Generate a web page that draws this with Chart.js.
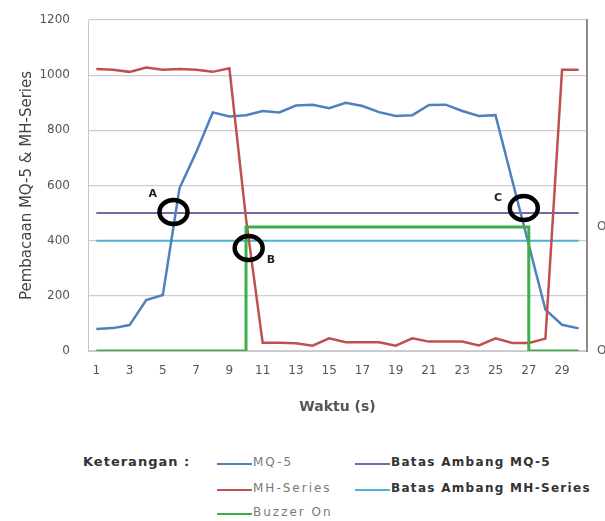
<!DOCTYPE html>
<html>
<head>
<meta charset="utf-8">
<script src="https://cdn.jsdelivr.net/npm/chart.js@4.4.1/dist/chart.umd.min.js"></script>
<style>
  body { margin: 0; background: #fff; width: 605px; height: 521px; overflow: hidden; position: relative; font-family: "DejaVu Sans", sans-serif; }
  #wrap { position: absolute; left: 0; top: 0; width: 605px; height: 425px; }
  #legend { position: absolute; left: 0; top: 450px; width: 605px; height: 71px; }
  .key { position: absolute; left: 83px; top: 4px; font-weight: bold; font-size: 13px; letter-spacing: 1px; color: #333; }
  .item { position: absolute; height: 20px; white-space: nowrap; }
  .item .sw { position: absolute; left: 0; top: 9px; width: 35px; height: 0; border-top: 2px solid; }
  .item .tx { position: absolute; left: 36px; top: 1px; font-size: 12px; }
  .plain { color: #7a7a7a; letter-spacing: 2px; }
  .bold { color: #333; font-weight: bold; letter-spacing: 1.3px; }
</style>
</head>
<body>
<div id="wrap"><canvas id="chart"></canvas></div>
<div id="legend"><div class="key">Keterangan :</div></div>
<script>
// Data
const categories = ['1','2','3','4','5','6','7','8','9','10','11','12','13','14','15',
  '16','17','18','19','20','21','22','23','24','25','26','27','28','29','30'];
const mq5 = [80, 83, 94, 185, 203, 590, 720, 865, 850, 855, 870, 865, 890, 893, 880,
  900, 888, 866, 852, 855, 892, 893, 870, 852, 855, 620, 385, 150, 95, 82];
const mhSeries = [1022, 1020, 1012, 1028, 1020, 1022, 1020, 1012, 1025, 480, 30, 30, 28, 19, 46,
  32, 32, 32, 19, 46, 34, 34, 34, 20, 46, 29, 29, 45, 1020, 1020];
const buzzerOn = [0, 0, 0, 0, 0, 0, 0, 0, 0, 1, 1, 1, 1, 1, 1,
  1, 1, 1, 1, 1, 1, 1, 1, 1, 1, 1, 0, 0, 0, 0];
const batasMQ5 = [500, 500, 500, 500, 500, 500, 500, 500, 500, 500, 500, 500, 500, 500, 500,
  500, 500, 500, 500, 500, 500, 500, 500, 500, 500, 500, 500, 500, 500, 500];
const batasMH = [400, 400, 400, 400, 400, 400, 400, 400, 400, 400, 400, 400, 400, 400, 400,
  400, 400, 400, 400, 400, 400, 400, 400, 400, 400, 400, 400, 400, 400, 400];
const yTicks = [0, 200, 400, 600, 800, 1000, 1200];
const buzzerTicks = ['Off', 'On'];
// circled points A, B, C: [label, category index, value, label index, label value]
const marks = [
  ['A', 4.64, 504, 3.4, 570],
  ['B', 9.16, 373, 10.5, 330],
  ['C', 25.7, 518, 24.15, 555]
];

const colors = {
  mq5: '#4f81bd', mh: '#c0504d', buzzer: '#3cae4a', batasMQ5: '#8064a2', batasMH: '#4bb4d2'
};

// black rings + letters
const ringPlugin = {
  id: 'rings',
  afterDatasetsDraw(chart) {
    const { ctx, scales: { x, y } } = chart;
    ctx.save();
    marks.forEach(([name, xi, yv, lx, ly]) => {
      const px = x.getPixelForValue(xi), py = y.getPixelForValue(yv);
      ctx.beginPath();
      ctx.ellipse(px, py, 14, 12, 0, 0, Math.PI * 2);
      ctx.lineWidth = 4.5;
      ctx.strokeStyle = '#000';
      ctx.stroke();
      ctx.fillStyle = '#222';
      ctx.font = 'bold 11px "DejaVu Sans"';
      ctx.textAlign = 'center';
      ctx.textBaseline = 'middle';
      ctx.fillText(name, x.getPixelForValue(lx), y.getPixelForValue(ly));
    });
    ctx.restore();
  }
};

const line = (label, data, color, width, order, extra) => Object.assign({
  label, data, borderColor: color, backgroundColor: color, borderWidth: width,
  pointRadius: 0, tension: 0, fill: false, order
}, extra || {});

new Chart(document.getElementById('chart'), {
  type: 'line',
  data: {
    labels: categories,
    datasets: [
      line('Batas Ambang MH-Series', batasMH, colors.batasMH, 2, 4),
      line('Batas Ambang MQ-5', batasMQ5, colors.batasMQ5, 2, 3),
      line('MQ-5', mq5, colors.mq5, 2.5, 2),
      line('MH-Series', mhSeries, colors.mh, 2.5, 1),
      line('Buzzer On', buzzerOn, colors.buzzer, 3, 0, { yAxisID: 'y2', stepped: 'before' })
    ]
  },
  options: {
    responsive: true,
    maintainAspectRatio: false,
    animation: false,
    layout: { padding: { top: 20, left: 0, right: 0, bottom: 0 } },
    plugins: { legend: { display: false }, tooltip: { enabled: false } },
    scales: {
      x: {
        offset: true,
        grid: { display: false, drawTicks: false },
        border: { display: true, color: '#c8c8c8', width: 1 },
        ticks: {
          autoSkip: false, maxRotation: 0, padding: 13, color: '#555',
          font: { family: 'DejaVu Sans', size: 12 },
          callback(v, i) { return i % 2 === 0 ? this.getLabelForValue(v) : ''; }
        },
        title: {
          display: true, text: 'Waktu (s)', color: '#555',
          font: { family: 'DejaVu Sans', size: 14, weight: 'bold' },
          padding: { top: 0, bottom: 9 }
        },
        afterFit(s) { s.height = 74; }
      },
      y: {
        min: 0, max: 1200,
        afterBuildTicks(s) { s.ticks = yTicks.map(v => ({ value: v })); },
        grid: { color: '#cdcdcd', lineWidth: 1.2, drawTicks: false },
        border: { display: true, color: '#c8c8c8', width: 1 },
        ticks: {
          padding: 18, color: '#555', font: { family: 'DejaVu Sans', size: 12 },
          callback: v => String(v)
        },
        title: {
          display: true, text: 'Pembacaan MQ-5 & MH-Series', color: '#444',
          font: { family: 'DejaVu Sans', size: 15 },
          padding: { top: 18, bottom: 0 }
        },
        afterFit(s) { s.width = 88; s.paddingTop = 0; s.paddingBottom = 0; }
      },
      y2: {
        position: 'right',
        min: 0, max: 1200 / 450,
        afterBuildTicks(s) { s.ticks = buzzerTicks.map((t, i) => ({ value: i })); },
        grid: { display: false, drawTicks: false },
        border: { display: true, color: '#8a8a8a', width: 2 },
        ticks: {
          padding: 10, color: '#555', font: { family: 'DejaVu Sans', size: 12 },
          callback: v => buzzerTicks[v]
        },
        afterFit(s) { s.width = 18; s.paddingTop = 0; s.paddingBottom = 0; }
      }
    }
  },
  plugins: [ringPlugin]
});

// legend below the chart
const legendItems = [
  ['MQ-5', colors.mq5, 217, 4, 'plain'],
  ['MH-Series', colors.mh, 217, 30, 'plain'],
  ['Buzzer On', colors.buzzer, 217, 54, 'plain'],
  ['Batas Ambang MQ-5', colors.batasMQ5, 355, 4, 'bold'],
  ['Batas Ambang MH-Series', colors.batasMH, 355, 30, 'bold']
];
const legend = document.getElementById('legend');
legendItems.forEach(([text, color, left, top, cls]) => {
  const d = document.createElement('div');
  d.className = 'item';
  d.style.left = left + 'px';
  d.style.top = top + 'px';
  d.innerHTML = '<span class="sw" style="border-color:' + color + '"></span><span class="tx ' + cls + '">' + text + '</span>';
  legend.appendChild(d);
});
</script>
</body>
</html>
